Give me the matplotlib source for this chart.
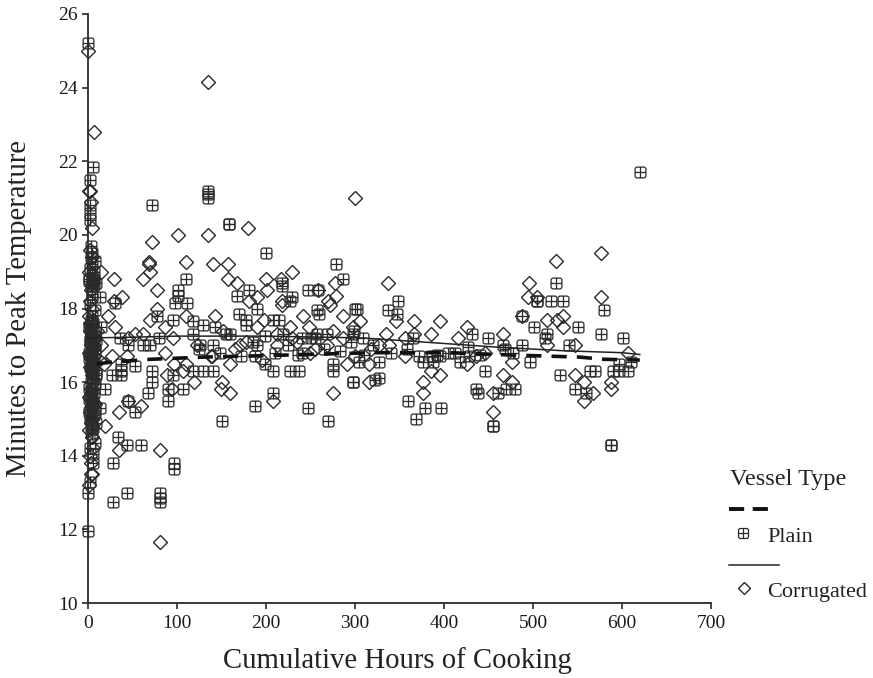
import matplotlib
matplotlib.use("Agg")
import matplotlib.pyplot as plt
from matplotlib.path import Path
from matplotlib.lines import Line2D

plt.rcParams['font.family'] = ['Liberation Serif', 'DejaVu Serif']

plain_x = [0,6,2,2,2,2,72,135,135,135,158,158,200,279,287,218,218,110,101,101,247,258,181,167,229,13,
 0,0,2,81,81,81,28,44,97,97,28,6,34,44,59,45,53,13,67,72,72,90,90,107,19,150,188,208,247,270,298,
 37,37,37,27,118,129,140,96,208,227,237,275,275,53,199,188,236,
 118,160,219,257,268,298,36,208,215,98,111,30,227,257,260,302,77,96,118,170,178,178,15,143,129,190,140,126,190,70,45,241,250,199,
 620,526,520,534,505,505,488,501,551,580,576,601,516,514,541,488,466,449,431,427,405,386,376,388,418,396,327,305,497,477,446,530,547,570,564,590,597,607,597,610,
 298,327,323,360,379,397,369,436,438,461,470,480,455,455,588,588,560,348,337,347,300,299,309,365,
 62,80,125,148,155,172,185,210,225,240,255,265,283,295,310,320,340,358,372,392,412,428,440,468,
 3,5,8,2,4,7,1,6,9,3,5,2,8,4,6,1,7,3,5,9,2,4,6,8,1,3,7,5,2,4,9,6,3,8,1,5,7,2,4,6,3,8,5,1,7,2,9,4,6,3,5,8,2,7,4,1,6,3,9,5,
 2,4,3,6,5,8,2,4,7,3,5,1,6,2,8,4,3,6,5,7,1,3,4,2,6,8,5,3,7,4]
plain_y = [25.2,21.85,21.5,20.8,20.6,20.4,20.8,21.2,21.1,21.0,20.3,20.3,19.5,19.2,18.8,18.7,18.6,18.8,18.5,18.35,18.5,18.5,18.5,18.35,18.3,18.3,
 11.95,13.0,13.3,13.0,12.85,12.75,12.75,13.0,13.8,13.65,13.8,13.8,14.5,14.3,14.3,15.5,15.2,15.3,15.7,16.0,16.3,15.8,15.5,15.8,15.8,14.95,15.35,15.7,15.3,14.95,16.0,
 16.5,16.3,16.2,16.2,16.3,16.3,16.3,16.2,16.3,16.3,16.3,16.5,16.3,16.45,16.5,16.7,16.75,
 17.3,17.3,17.3,17.3,17.3,17.3,17.2,17.7,17.7,18.15,18.15,18.15,18.2,17.95,17.85,18.0,17.8,17.7,17.65,17.85,17.7,17.55,17.5,17.5,17.55,18.0,17.0,17.0,17.0,17.0,17.0,17.2,17.2,17.25,
 21.7,18.7,18.2,18.2,18.2,18.2,17.8,17.5,17.5,17.95,17.3,17.2,17.3,17.2,17.0,17.0,17.0,17.2,17.3,16.95,16.8,16.7,16.55,16.55,16.55,16.7,16.55,16.55,16.55,16.8,16.3,16.2,15.8,16.3,16.3,16.3,16.3,16.3,16.5,16.55,
 16.0,16.1,16.05,15.5,15.3,15.3,15.0,15.8,15.7,15.7,15.8,15.8,14.8,14.8,14.3,14.3,15.7,18.2,17.95,17.85,18.0,17.4,17.2,17.2,
 17.0,17.2,16.9,16.8,17.3,16.7,17.1,16.8,17.0,16.8,17.2,16.9,16.85,17.1,16.75,17.0,16.8,16.9,16.7,16.75,16.8,16.7,16.75,16.9,
 19.7,19.5,19.3,19.1,18.9,18.8,18.75,18.7,18.7,18.6,18.3,18.1,17.95,17.8,17.6,17.5,17.4,17.3,17.2,17.15,17.1,17.0,16.95,16.9,16.8,16.7,16.6,16.5,16.4,16.3,16.2,16.1,16.0,15.95,15.85,15.8,15.7,15.6,15.5,15.45,15.4,15.35,15.3,15.2,15.1,15.0,14.9,14.8,14.75,14.7,14.6,17.25,17.15,17.05,16.85,16.65,16.55,16.35,16.25,16.15,
 17.45,17.35,17.25,17.1,17.0,16.9,16.75,16.6,16.45,15.75,15.65,15.55,15.4,15.25,15.15,15.05,14.95,18.75,18.7,18.65,18.8,17.7,17.6,14.2,14.05,14.35,19.2,19.4,19.0,18.4]

corr_x = [0,7,135,300,2,180,101,135,72,68,68,110,141,157,70,62,29,15,157,167,200,201,229,217,77,38,29,258,278,279,270,190,181,218,
 81,81,35,3,35,60,45,19,4,160,149,151,208,275,119,94,89,107,160,291,22,30,77,70,86,110,143,95,53,62,45,27,171,212,198,190,227,242,287,248,272,218,298,268,249,287,110,97,229,139,86,44,
 337,495,494,505,576,526,576,516,527,534,534,488,306,346,366,395,426,385,356,366,416,466,327,338,516,547,446,436,607,476,426,316,356,396,385,376,376,316,466,476,455,455,547,557,567,557,588,588,
 122,138,152,165,178,195,212,235,255,275,300,318,335,
 1,3,5,2,4,1,6,3,2,5,1,4,2,7,3,1,5,2,4,6,3,1,8,2,5,3,1,4,6,2,3,5,1,7,2,4,12,15,10,18]
corr_y = [25.0,22.8,24.15,21.0,21.2,20.2,20.0,20.0,19.8,19.25,19.2,19.25,19.2,19.2,19.0,18.8,18.8,19.0,18.8,18.7,18.8,18.5,19.0,18.8,18.5,18.3,18.2,18.5,18.7,18.35,18.2,18.3,18.2,18.2,
 11.65,14.15,14.15,13.5,15.2,15.35,15.5,14.8,14.5,15.7,15.8,16.0,15.5,15.7,16.0,15.8,16.2,16.3,16.5,16.5,17.8,17.5,18.0,17.7,17.5,17.8,17.8,17.2,17.3,17.3,17.2,16.7,17.0,17.0,17.7,17.5,17.5,17.8,17.8,17.5,18.1,18.1,17.5,17.0,16.8,17.2,16.5,16.5,17.2,16.7,16.8,16.7,
 18.7,18.7,18.3,18.3,19.5,19.3,18.3,17.7,17.7,17.8,17.5,17.8,17.65,17.65,17.65,17.65,17.5,17.3,17.2,17.3,17.2,17.3,17.0,17.0,17.0,17.0,16.8,16.7,16.8,16.55,16.5,16.5,16.7,16.2,16.3,16.0,15.7,16.0,16.2,16.0,15.7,15.2,16.2,16.0,15.7,15.5,16.0,15.8,
 17.0,16.7,17.4,16.9,17.1,16.6,17.3,17.1,16.9,17.4,16.7,16.9,17.3,
 21.2,20.9,20.2,19.6,19.4,19.0,18.8,18.5,18.2,18.0,17.8,17.6,17.4,17.2,17.0,16.8,16.6,16.4,16.2,16.0,15.8,15.6,15.4,15.2,15.0,14.9,14.7,14.5,14.2,14.0,13.8,13.5,13.2,16.7,17.6,16.3,16.6,17.0,17.4,16.5]

plain_trend_x = [10,30,70,130,200,320,405,460,525,552,580,620]
plain_trend_y = [16.5,16.55,16.62,16.68,16.72,16.8,16.8,16.75,16.7,16.68,16.62,16.6]
corr_trend_x = [2,50,100,200,309,400,460,536,600,620]
corr_trend_y = [17.2,17.22,17.25,17.25,17.2,17.05,16.95,16.85,16.8,16.75]

x_ticks = [0,100,200,300,400,500,600,700]
y_ticks = [10,12,14,16,18,20,22,24,26]
x_label = 'Cumulative Hours of Cooking'
y_label = 'Minutes to Peak Temperature'
legend_title = 'Vessel Type'
series_names = ['Plain', 'Corrugated']

C = '#2a2a2a'
# rounded square with a cross
k = 0.4
verts = [(-1+k,-1),(1-k,-1),(1,-1),(1,-1+k),(1,1-k),(1,1),(1-k,1),(-1+k,1),(-1,1),(-1,1-k),(-1,-1+k),(-1,-1),(-1+k,-1),
         (-1,0),(1,0),(0,-1),(0,1)]
codes = [Path.MOVETO,Path.LINETO,Path.CURVE3,Path.CURVE3,Path.LINETO,Path.CURVE3,Path.CURVE3,Path.LINETO,Path.CURVE3,Path.CURVE3,Path.LINETO,Path.CURVE3,Path.CURVE3,
         Path.MOVETO,Path.LINETO,Path.MOVETO,Path.LINETO]
plain_marker = Path(verts, codes)

W, H = 873, 678
fig = plt.figure(figsize=(W/100, H/100), dpi=100, facecolor='white')
ax = fig.add_axes([88/W, 1-603/H, (711-88)/W, (603-14)/H])
ax.set_xlim(0,700); ax.set_ylim(10,26)

ax.plot(corr_x, corr_y, ls='none', marker='D', ms=6.8, mfc='none', mec=C, mew=1.0, clip_on=False, zorder=3)
ax.plot(plain_x, plain_y, ls='none', marker=plain_marker, ms=7.8, mfc='none', mec=C, mew=0.9, clip_on=False, zorder=3)
ax.plot(plain_trend_x, plain_trend_y, color='#111111', lw=2.6, ls=(0,(4.2,2.8)), zorder=4)
ax.plot(corr_trend_x, corr_trend_y, color='#222222', lw=1.1, zorder=4)

for s in ('top','right'):
    ax.spines[s].set_visible(False)
for s in ('left','bottom'):
    ax.spines[s].set_linewidth(1.3); ax.spines[s].set_color(C)
ax.set_xticks(x_ticks); ax.set_yticks(y_ticks)
ax.tick_params(length=4.5, width=1.2, color=C, labelcolor='#1a1a1a', labelsize=14, pad=3)
ax.tick_params(axis='x', pad=4)
fig.text(397/W, 1-661/H, x_label, ha='center', va='center', fontsize=20.7, color='#222222')
fig.text(19/W, 1-309/H, y_label, ha='center', va='center', rotation=90, fontsize=20.6, color='#222222')

def fx(px): return px/W
def fy(py): return 1-py/H
fig.text(fx(730), fy(480), legend_title, ha='left', va='center', fontsize=17.5, color='#222222')
fig.add_artist(Line2D([fx(729),fx(768)],[fy(509),fy(509)], color='#111111', lw=2.8, ls=(0,(3.9,2.2))))
fig.add_artist(Line2D([fx(743)],[fy(533)], marker=plain_marker, ms=7.2, mfc='none', mec=C, mew=0.9, ls='none'))
fig.text(fx(767), fy(537), series_names[0], ha='left', va='center', fontsize=16, color='#222222')
fig.add_artist(Line2D([fx(729),fx(779)],[fy(565),fy(565)], color='#222222', lw=1.1))
fig.add_artist(Line2D([fx(744)],[fy(588)], marker='D', ms=6.2, mfc='none', mec=C, mew=1.0, ls='none'))
fig.text(fx(767), fy(592), series_names[1], ha='left', va='center', fontsize=16, color='#222222')

fig.savefig('out.png', dpi=100)
